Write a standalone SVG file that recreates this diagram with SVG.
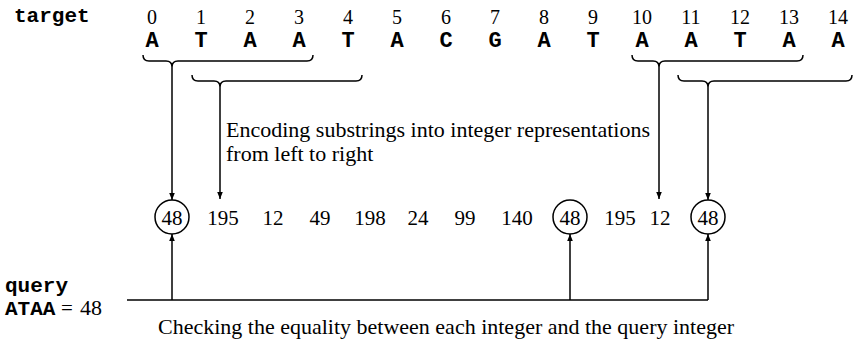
<svg xmlns="http://www.w3.org/2000/svg" width="854" height="343" viewBox="0 0 854 343">
<defs>
<style>
.mono{font-family:"Liberation Mono","Courier New",monospace;font-weight:bold;fill:#000}
.serif{font-family:"Liberation Serif","Times New Roman",serif;fill:#000}
.idx{font-size:20px;text-anchor:middle}
.base{font-size:22px;text-anchor:middle}
.num{font-size:21px;text-anchor:middle}
.lbl{font-size:22px}
.ln{stroke:#000;stroke-width:1.5;fill:none}
</style>
<marker id="ah" viewBox="0 0 10 10" refX="10" refY="5" markerWidth="7" markerHeight="7" markerUnits="userSpaceOnUse" orient="auto">
<path d="M0,1 L10,5 L0,9 Z" fill="#000"/>
</marker>
</defs>
<rect width="854" height="343" fill="#fff"/>
<g id="target">
<text class="mono" x="14" y="22" font-size="21">target</text>
<g class="serif idx">
<text x="152" y="24">0</text><text x="201" y="24">1</text><text x="250" y="24">2</text><text x="299" y="24">3</text><text x="348" y="24">4</text><text x="397" y="24">5</text><text x="446" y="24">6</text><text x="495" y="24">7</text><text x="544" y="24">8</text><text x="593" y="24">9</text><text x="642" y="24">10</text><text x="691" y="24">11</text><text x="740" y="24">12</text><text x="789" y="24">13</text><text x="838" y="24">14</text>
</g>
<g class="mono base">
<text x="152" y="47">A</text><text x="201" y="47">T</text><text x="250" y="47">A</text><text x="299" y="47">A</text><text x="348" y="47">T</text><text x="397" y="47">A</text><text x="446" y="47">C</text><text x="495" y="47">G</text><text x="544" y="47">A</text><text x="593" y="47">T</text><text x="642" y="47">A</text><text x="691" y="47">A</text><text x="740" y="47">T</text><text x="789" y="47">A</text><text x="838" y="47">A</text>
</g>
</g>
<g id="braces" class="ln">
<path d="M143,55 q0,6 6,6 H166 q6,0 6,6 q0,-6 6,-6 H307 q6,0 6,-6"/>
<path d="M192,75 q0,6 6,6 H214 q6,0 6,6 q0,-6 6,-6 H356 q6,0 6,-6"/>
<path d="M632,55 q0,6 6,6 H653 q6,0 6,6 q0,-6 6,-6 H797 q6,0 6,-6"/>
<path d="M678,75 q0,6 6,6 H702 q6,0 6,6 q0,-6 6,-6 H846 q6,0 6,-6"/>
</g>
<g id="integers">
<g class="serif num">
<text x="172" y="225">48</text><text x="223" y="225">195</text><text x="273" y="225">12</text><text x="320" y="225">49</text><text x="370" y="225">198</text><text x="418" y="225">24</text><text x="465" y="225">99</text><text x="517" y="225">140</text><text x="570" y="225">48</text><text x="620" y="225">195</text><text x="660" y="225">12</text><text x="708" y="225">48</text>
</g>
<g class="ln">
<circle cx="172" cy="217" r="17"/>
<circle cx="570" cy="217" r="17"/>
<circle cx="708" cy="217" r="17"/>
</g>
</g>
<g id="query">
<text class="mono" x="5" y="292" font-size="21">query</text>
<text class="mono" x="5" y="315" font-size="21">ATAA</text>
<text class="serif" x="67" y="315" font-size="21" text-anchor="middle">=</text>
<text class="serif" x="80" y="315" font-size="22">48</text>
</g>
<g id="connectors" class="ln">
<line x1="172" y1="67" x2="172" y2="200" marker-end="url(#ah)"/>
<line x1="220" y1="87" x2="220" y2="199" marker-end="url(#ah)"/>
<line x1="659" y1="67" x2="659" y2="199" marker-end="url(#ah)"/>
<line x1="708" y1="87" x2="708" y2="200" marker-end="url(#ah)"/>
<polyline points="127,300 708,300"/>
<line x1="172" y1="300" x2="172" y2="234" marker-end="url(#ah)"/>
<line x1="570" y1="300" x2="570" y2="234" marker-end="url(#ah)"/>
<line x1="708" y1="300" x2="708" y2="234" marker-end="url(#ah)"/>
</g>
<g id="labels">
<text class="serif lbl" x="226" y="137">Encoding substrings into integer representations</text>
<text class="serif lbl" x="226" y="161">from left to right</text>
<text class="serif lbl" x="158" y="334">Checking the equality between each integer and the query integer</text>
</g>
</svg>
